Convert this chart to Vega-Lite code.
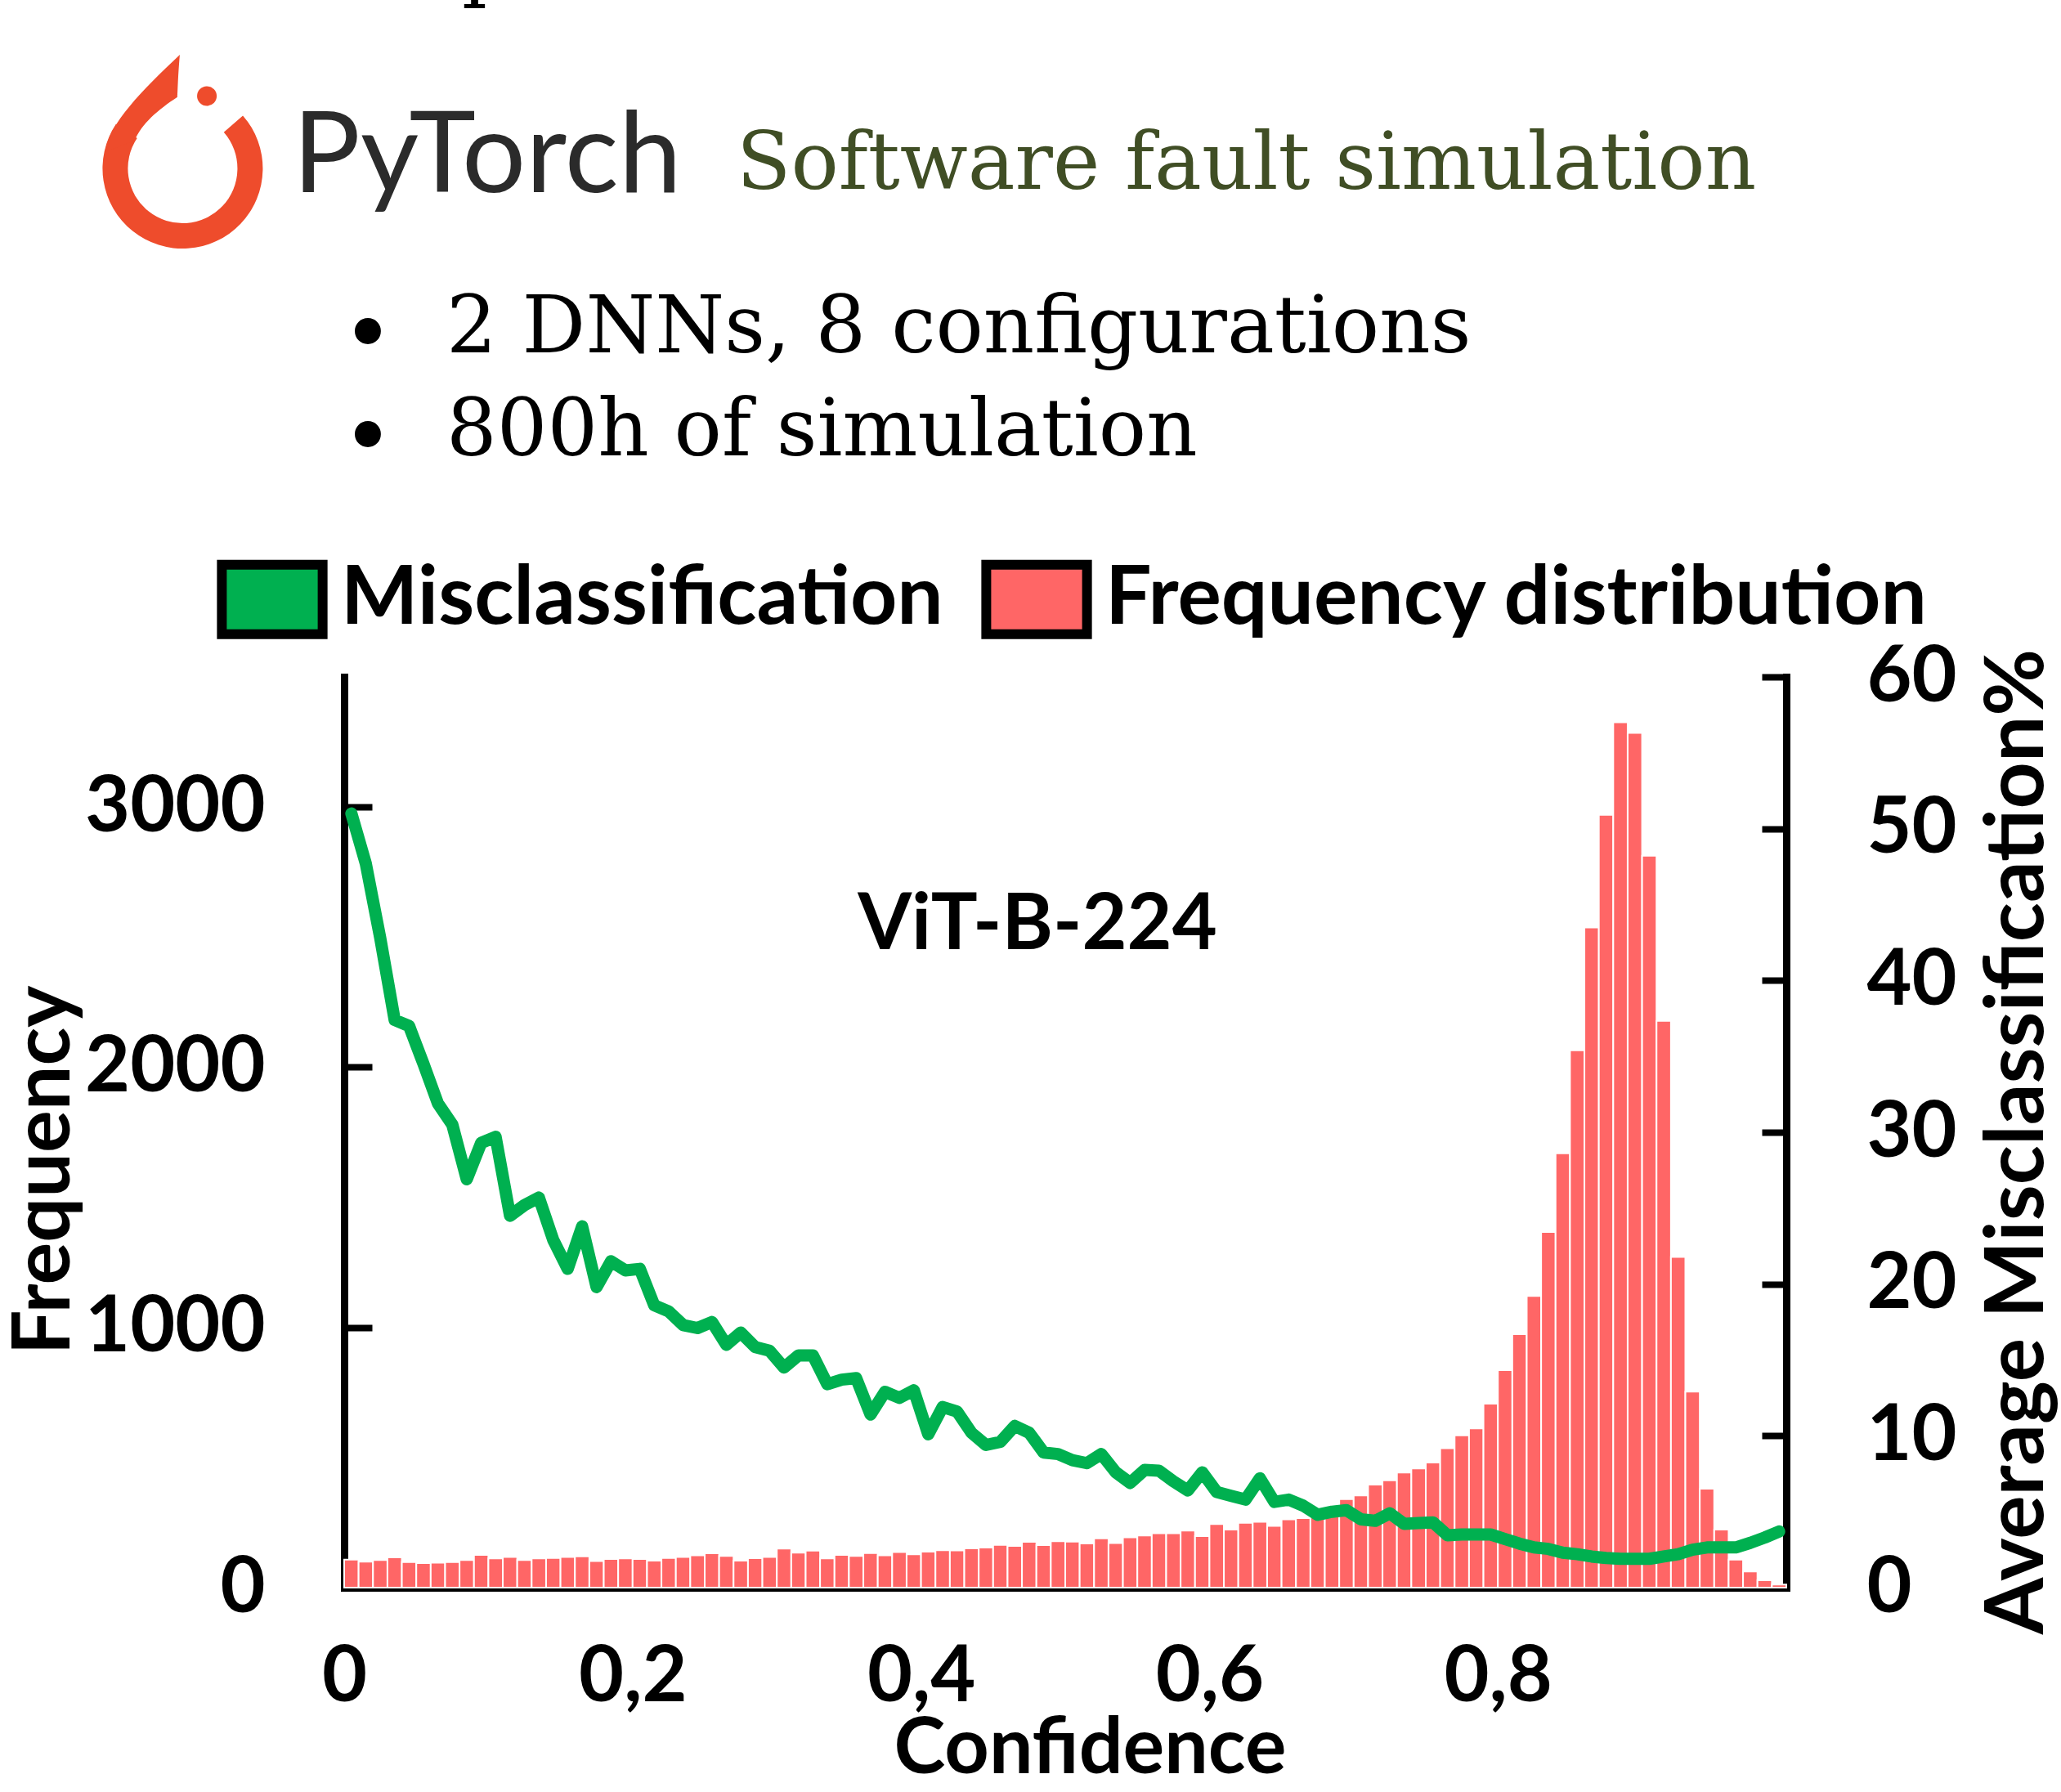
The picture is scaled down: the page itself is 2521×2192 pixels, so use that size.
{
  "$schema": "https://vega.github.io/schema/vega-lite/v6.json",
  "width": 1764,
  "height": 1114,
  "autosize": {"type": "none"},
  "padding": {"left": 421, "top": 828, "right": 336, "bottom": 250},
  "background": "white",
  "config": {
    "view": {"stroke": null},
    "axis": {
      "grid": false,
      "domainColor": "black",
      "tickColor": "black",
      "labelColor": "black",
      "titleColor": "black",
      "labelFont": "Lato",
      "labelFontWeight": "bold",
      "labelFontSize": 95,
      "titleFont": "Lato",
      "titleFontWeight": "bold",
      "titleFontSize": 95,
      "domainWidth": 9,
      "tickWidth": 8,
      "domainCap": "square",
      "labelFlush": false,
      "labelOverlap": false,
      "labelLimit": 0,
      "titleLimit": 0
    }
  },
  "datasets": {
    "hist": [
      {"lo": 0.00, "hi": 0.01, "conf": 0.005, "freq": 108, "mis": 51.0},
      {"lo": 0.01, "hi": 0.02, "conf": 0.015, "freq": 100, "mis": 47.7},
      {"lo": 0.02, "hi": 0.03, "conf": 0.025, "freq": 106, "mis": 42.8},
      {"lo": 0.03, "hi": 0.04, "conf": 0.035, "freq": 116, "mis": 37.4},
      {"lo": 0.04, "hi": 0.05, "conf": 0.045, "freq": 98, "mis": 37.0},
      {"lo": 0.05, "hi": 0.06, "conf": 0.055, "freq": 94, "mis": 34.5},
      {"lo": 0.06, "hi": 0.07, "conf": 0.065, "freq": 96, "mis": 31.9},
      {"lo": 0.07, "hi": 0.08, "conf": 0.075, "freq": 98, "mis": 30.5},
      {"lo": 0.08, "hi": 0.09, "conf": 0.085, "freq": 106, "mis": 26.9},
      {"lo": 0.09, "hi": 0.10, "conf": 0.095, "freq": 126, "mis": 29.3},
      {"lo": 0.10, "hi": 0.11, "conf": 0.105, "freq": 112, "mis": 29.7},
      {"lo": 0.11, "hi": 0.12, "conf": 0.115, "freq": 118, "mis": 24.5},
      {"lo": 0.12, "hi": 0.13, "conf": 0.125, "freq": 106, "mis": 25.2},
      {"lo": 0.13, "hi": 0.14, "conf": 0.135, "freq": 112, "mis": 25.7},
      {"lo": 0.14, "hi": 0.15, "conf": 0.145, "freq": 114, "mis": 22.9},
      {"lo": 0.15, "hi": 0.16, "conf": 0.155, "freq": 118, "mis": 21.0},
      {"lo": 0.16, "hi": 0.17, "conf": 0.165, "freq": 120, "mis": 23.8},
      {"lo": 0.17, "hi": 0.18, "conf": 0.175, "freq": 102, "mis": 19.8},
      {"lo": 0.18, "hi": 0.19, "conf": 0.185, "freq": 110, "mis": 21.5},
      {"lo": 0.19, "hi": 0.20, "conf": 0.195, "freq": 112, "mis": 20.9},
      {"lo": 0.20, "hi": 0.21, "conf": 0.205, "freq": 110, "mis": 21.0},
      {"lo": 0.21, "hi": 0.22, "conf": 0.215, "freq": 104, "mis": 18.6},
      {"lo": 0.22, "hi": 0.23, "conf": 0.225, "freq": 114, "mis": 18.2},
      {"lo": 0.23, "hi": 0.24, "conf": 0.235, "freq": 118, "mis": 17.3},
      {"lo": 0.24, "hi": 0.25, "conf": 0.245, "freq": 124, "mis": 17.1},
      {"lo": 0.25, "hi": 0.26, "conf": 0.255, "freq": 132, "mis": 17.5},
      {"lo": 0.26, "hi": 0.27, "conf": 0.265, "freq": 122, "mis": 16.0},
      {"lo": 0.27, "hi": 0.28, "conf": 0.275, "freq": 104, "mis": 16.8},
      {"lo": 0.28, "hi": 0.29, "conf": 0.285, "freq": 113, "mis": 15.85},
      {"lo": 0.29, "hi": 0.30, "conf": 0.295, "freq": 118, "mis": 15.6},
      {"lo": 0.30, "hi": 0.31, "conf": 0.305, "freq": 150, "mis": 14.5},
      {"lo": 0.31, "hi": 0.32, "conf": 0.315, "freq": 134, "mis": 15.3},
      {"lo": 0.32, "hi": 0.33, "conf": 0.325, "freq": 142, "mis": 15.3},
      {"lo": 0.33, "hi": 0.34, "conf": 0.335, "freq": 112, "mis": 13.4},
      {"lo": 0.34, "hi": 0.35, "conf": 0.345, "freq": 126, "mis": 13.7},
      {"lo": 0.35, "hi": 0.36, "conf": 0.355, "freq": 122, "mis": 13.8},
      {"lo": 0.36, "hi": 0.37, "conf": 0.365, "freq": 133, "mis": 11.4},
      {"lo": 0.37, "hi": 0.38, "conf": 0.375, "freq": 124, "mis": 12.9},
      {"lo": 0.38, "hi": 0.39, "conf": 0.385, "freq": 137, "mis": 12.5},
      {"lo": 0.39, "hi": 0.40, "conf": 0.395, "freq": 128, "mis": 13.0},
      {"lo": 0.40, "hi": 0.41, "conf": 0.405, "freq": 138, "mis": 10.1},
      {"lo": 0.41, "hi": 0.42, "conf": 0.415, "freq": 144, "mis": 11.9},
      {"lo": 0.42, "hi": 0.43, "conf": 0.425, "freq": 143, "mis": 11.6},
      {"lo": 0.43, "hi": 0.44, "conf": 0.435, "freq": 151, "mis": 10.2},
      {"lo": 0.44, "hi": 0.45, "conf": 0.445, "freq": 154, "mis": 9.4},
      {"lo": 0.45, "hi": 0.46, "conf": 0.455, "freq": 164, "mis": 9.6},
      {"lo": 0.46, "hi": 0.47, "conf": 0.465, "freq": 160, "mis": 10.65},
      {"lo": 0.47, "hi": 0.48, "conf": 0.475, "freq": 176, "mis": 10.2},
      {"lo": 0.48, "hi": 0.49, "conf": 0.485, "freq": 163, "mis": 8.9},
      {"lo": 0.49, "hi": 0.50, "conf": 0.495, "freq": 178, "mis": 8.8},
      {"lo": 0.50, "hi": 0.51, "conf": 0.505, "freq": 177, "mis": 8.4},
      {"lo": 0.51, "hi": 0.52, "conf": 0.515, "freq": 170, "mis": 8.2},
      {"lo": 0.52, "hi": 0.53, "conf": 0.525, "freq": 189, "mis": 8.8},
      {"lo": 0.53, "hi": 0.54, "conf": 0.535, "freq": 171, "mis": 7.6},
      {"lo": 0.54, "hi": 0.55, "conf": 0.545, "freq": 193, "mis": 6.9},
      {"lo": 0.55, "hi": 0.56, "conf": 0.555, "freq": 200, "mis": 7.75},
      {"lo": 0.56, "hi": 0.57, "conf": 0.565, "freq": 209, "mis": 7.7},
      {"lo": 0.57, "hi": 0.58, "conf": 0.575, "freq": 209, "mis": 7.0},
      {"lo": 0.58, "hi": 0.59, "conf": 0.585, "freq": 219, "mis": 6.4},
      {"lo": 0.59, "hi": 0.60, "conf": 0.595, "freq": 198, "mis": 7.6},
      {"lo": 0.60, "hi": 0.61, "conf": 0.605, "freq": 244, "mis": 6.3},
      {"lo": 0.61, "hi": 0.62, "conf": 0.615, "freq": 223, "mis": 6.05},
      {"lo": 0.62, "hi": 0.63, "conf": 0.625, "freq": 249, "mis": 5.8},
      {"lo": 0.63, "hi": 0.64, "conf": 0.635, "freq": 253, "mis": 7.2},
      {"lo": 0.64, "hi": 0.65, "conf": 0.645, "freq": 237, "mis": 5.65},
      {"lo": 0.65, "hi": 0.66, "conf": 0.655, "freq": 262, "mis": 5.8},
      {"lo": 0.66, "hi": 0.67, "conf": 0.665, "freq": 267, "mis": 5.4},
      {"lo": 0.67, "hi": 0.68, "conf": 0.675, "freq": 282, "mis": 4.8},
      {"lo": 0.68, "hi": 0.69, "conf": 0.685, "freq": 312, "mis": 5.0},
      {"lo": 0.69, "hi": 0.70, "conf": 0.695, "freq": 340, "mis": 5.1},
      {"lo": 0.70, "hi": 0.71, "conf": 0.705, "freq": 354, "mis": 4.5},
      {"lo": 0.71, "hi": 0.72, "conf": 0.715, "freq": 396, "mis": 4.4},
      {"lo": 0.72, "hi": 0.73, "conf": 0.725, "freq": 412, "mis": 4.9},
      {"lo": 0.73, "hi": 0.74, "conf": 0.735, "freq": 442, "mis": 4.2},
      {"lo": 0.74, "hi": 0.75, "conf": 0.745, "freq": 458, "mis": 4.25},
      {"lo": 0.75, "hi": 0.76, "conf": 0.755, "freq": 481, "mis": 4.3},
      {"lo": 0.76, "hi": 0.77, "conf": 0.765, "freq": 536, "mis": 3.45},
      {"lo": 0.77, "hi": 0.78, "conf": 0.775, "freq": 585, "mis": 3.5},
      {"lo": 0.78, "hi": 0.79, "conf": 0.785, "freq": 612, "mis": 3.5},
      {"lo": 0.79, "hi": 0.80, "conf": 0.795, "freq": 707, "mis": 3.5},
      {"lo": 0.80, "hi": 0.81, "conf": 0.805, "freq": 836, "mis": 3.2},
      {"lo": 0.81, "hi": 0.82, "conf": 0.815, "freq": 974, "mis": 2.9},
      {"lo": 0.82, "hi": 0.83, "conf": 0.825, "freq": 1121, "mis": 2.65},
      {"lo": 0.83, "hi": 0.84, "conf": 0.835, "freq": 1367, "mis": 2.55},
      {"lo": 0.84, "hi": 0.85, "conf": 0.845, "freq": 1669, "mis": 2.3},
      {"lo": 0.85, "hi": 0.86, "conf": 0.855, "freq": 2065, "mis": 2.2},
      {"lo": 0.86, "hi": 0.87, "conf": 0.865, "freq": 2537, "mis": 2.05},
      {"lo": 0.87, "hi": 0.88, "conf": 0.875, "freq": 2970, "mis": 1.95},
      {"lo": 0.88, "hi": 0.89, "conf": 0.885, "freq": 3326, "mis": 1.9},
      {"lo": 0.89, "hi": 0.90, "conf": 0.895, "freq": 3285, "mis": 1.9},
      {"lo": 0.90, "hi": 0.91, "conf": 0.905, "freq": 2813, "mis": 1.9},
      {"lo": 0.91, "hi": 0.92, "conf": 0.915, "freq": 2178, "mis": 2.05},
      {"lo": 0.92, "hi": 0.93, "conf": 0.925, "freq": 1271, "mis": 2.2},
      {"lo": 0.93, "hi": 0.94, "conf": 0.935, "freq": 753, "mis": 2.5},
      {"lo": 0.94, "hi": 0.95, "conf": 0.945, "freq": 380, "mis": 2.65},
      {"lo": 0.95, "hi": 0.96, "conf": 0.955, "freq": 223, "mis": 2.65},
      {"lo": 0.96, "hi": 0.97, "conf": 0.965, "freq": 108, "mis": 2.65},
      {"lo": 0.97, "hi": 0.98, "conf": 0.975, "freq": 62, "mis": 2.95},
      {"lo": 0.98, "hi": 0.99, "conf": 0.985, "freq": 28, "mis": 3.3},
      {"lo": 0.99, "hi": 1.00, "conf": 0.995, "freq": 12, "mis": 3.7}
    ]
  },
  "data": {"name": "hist"},
  "layer": [
    {
      "layer": [
        {
          "mark": {"type": "bar", "stroke": "white", "strokeWidth": 2},
          "encoding": {
            "x": {
              "field": "lo",
              "type": "quantitative",
              "scale": {"domain": [0, 1], "nice": false, "zero": false},
              "axis": {
                "values": [0, 0.2, 0.4, 0.6, 0.8],
                "format": ".1~f",
                "labelExpr": "replace(datum.label, '.', ',')",
                "tickSize": -34,
                "labelPadding": 172,
                "labelBaseline": "alphabetic",
                "title": "Confidence",
                "titleX": 912,
                "titleY": 226,
                "titleBaseline": "alphabetic",
                "titleAlign": "center"
              }
            },
            "x2": {"field": "hi"},
            "y": {
              "field": "freq",
              "type": "quantitative",
              "scale": {"domain": [0, 3500], "nice": false},
              "axis": {
                "values": [0, 1000, 2000, 3000],
                "format": "d",
                "tickSize": -34,
                "labelPadding": 131,
                "title": "Frequency",
                "titleFontSize": 97,
                "titleX": -337,
                "titleY": 603,
                "titleAngle": -90,
                "titleBaseline": "alphabetic",
                "titleAlign": "center"
              }
            },
            "y2": {"datum": 0},
            "color": {
              "datum": "Frequency distribution",
              "type": "nominal",
              "scale": {
                "domain": ["Misclassification", "Frequency distribution"],
                "range": ["#00B050", "#FF6666"]
              },
              "legend": {
                "orient": "none",
                "legendX": -138,
                "legendY": -145,
                "direction": "horizontal",
                "title": null,
                "symbolType": "M-1.45,-1H1.45V1H-1.45Z",
                "symbolSize": 7225,
                "symbolStrokeWidth": 12,
                "symbolStrokeColor": "black",
                "symbolOpacity": 1,
                "labelFont": "Lato",
                "labelFontWeight": "bold",
                "labelFontSize": 100,
                "labelColor": "black",
                "labelOffset": 34,
                "labelLimit": 0,
                "columnPadding": 28,
                "padding": 0
              }
            }
          }
        },
        {
          "data": {"values": [{}]},
          "mark": {"type": "text", "text": "ViT-B-224", "font": "Lato", "fontWeight": "bold", "fontSize": 95, "color": "black", "align": "center", "baseline": "alphabetic"},
          "encoding": {"x": {"datum": 0.4807, "type": "quantitative"}, "y": {"datum": 2454, "type": "quantitative"}}
        },
        {
          "data": {"values": [{}]},
          "mark": {"type": "text", "text": "p", "font": "DejaVu Serif", "fontSize": 97, "color": "black", "align": "left", "baseline": "alphabetic"},
          "encoding": {"x": {"datum": 0.0816, "type": "quantitative"}, "y": {"datum": 6133, "type": "quantitative"}}
        },
        {
          "data": {"values": [{}]},
          "mark": {"type": "text", "text": "PyTorch", "font": "Lato", "fontWeight": "normal", "fontSize": 138, "color": "#2b2b2b", "align": "left", "baseline": "alphabetic"},
          "encoding": {"x": {"datum": -0.0357, "type": "quantitative"}, "y": {"datum": 5363, "type": "quantitative"}}
        },
        {
          "data": {"values": [{}]},
          "mark": {"type": "text", "text": "Software fault simulation", "font": "DejaVu Serif", "fontSize": 97, "color": "#404E25", "align": "left", "baseline": "alphabetic"},
          "encoding": {"x": {"datum": 0.2721, "type": "quantitative"}, "y": {"datum": 5376, "type": "quantitative"}}
        },
        {
          "data": {"values": [{}]},
          "mark": {"type": "text", "text": "2 DNNs, 8 configurations", "font": "DejaVu Serif", "fontSize": 97, "color": "black", "align": "left", "baseline": "alphabetic"},
          "encoding": {"x": {"datum": 0.0709, "type": "quantitative"}, "y": {"datum": 4747, "type": "quantitative"}}
        },
        {
          "data": {"values": [{}]},
          "mark": {"type": "text", "text": "800h of simulation", "font": "DejaVu Serif", "fontSize": 97, "color": "black", "align": "left", "baseline": "alphabetic"},
          "encoding": {"x": {"datum": 0.0709, "type": "quantitative"}, "y": {"datum": 4351, "type": "quantitative"}}
        },
        {
          "data": {"values": [{}]},
          "mark": {"type": "text", "text": "•", "font": "DejaVu Serif", "fontSize": 110, "color": "black", "align": "center", "baseline": "alphabetic"},
          "encoding": {"x": {"datum": 0.0164, "type": "quantitative"}, "y": {"datum": 4700, "type": "quantitative"}}
        },
        {
          "data": {"values": [{}]},
          "mark": {"type": "text", "text": "•", "font": "DejaVu Serif", "fontSize": 110, "color": "black", "align": "center", "baseline": "alphabetic"},
          "encoding": {"x": {"datum": 0.0164, "type": "quantitative"}, "y": {"datum": 4304, "type": "quantitative"}}
        },
        {
          "data": {"values": [{}]},
          "mark": {"type": "arc", "theta": 0.85, "theta2": 5.3, "outerRadius": 98, "innerRadius": 67, "color": "#EE4C2C"},
          "encoding": {"x": {"datum": -0.112, "type": "quantitative"}, "y": {"datum": 5454, "type": "quantitative"}}
        },
        {
          "data": {"values": [{}]},
          "mark": {"type": "point", "shape": "M-0.949,-0.2 C-0.9,-0.55 -0.5,-0.95 -0.035,-1.39 C-0.06,-1.1 -0.06,-0.95 -0.065,-0.874 C-0.3,-0.72 -0.5,-0.55 -0.589,-0.34 Z", "size": 40000, "filled": true, "opacity": 1, "color": "#EE4C2C"},
          "encoding": {"x": {"datum": -0.112, "type": "quantitative"}, "y": {"datum": 5454, "type": "quantitative"}}
        },
        {
          "data": {"values": [{}]},
          "mark": {"type": "point", "shape": "circle", "size": 576, "filled": true, "opacity": 1, "color": "#EE4C2C"},
          "encoding": {"x": {"datum": -0.0952, "type": "quantitative"}, "y": {"datum": 5732, "type": "quantitative"}}
        }
      ]
    },
    {
      "mark": {"type": "line", "color": "#00B050", "strokeWidth": 15, "strokeCap": "round", "strokeJoin": "round"},
      "encoding": {
        "x": {"field": "conf", "type": "quantitative"},
        "y": {
          "field": "mis",
          "type": "quantitative",
          "scale": {"domain": [0, 60], "nice": false},
          "axis": {
            "orient": "right",
            "values": [0, 10, 20, 30, 40, 50, 60],
            "tickSize": -30,
            "labelPadding": 128,
            "labelAlign": "left",
            "title": "Average Misclassification%",
            "titleFontSize": 100,
            "titleX": 313,
            "titleY": 568,
            "titleAngle": 270,
            "titleBaseline": "alphabetic",
            "titleAlign": "center"
          }
        }
      }
    }
  ],
  "resolve": {"scale": {"y": "independent"}}
}
